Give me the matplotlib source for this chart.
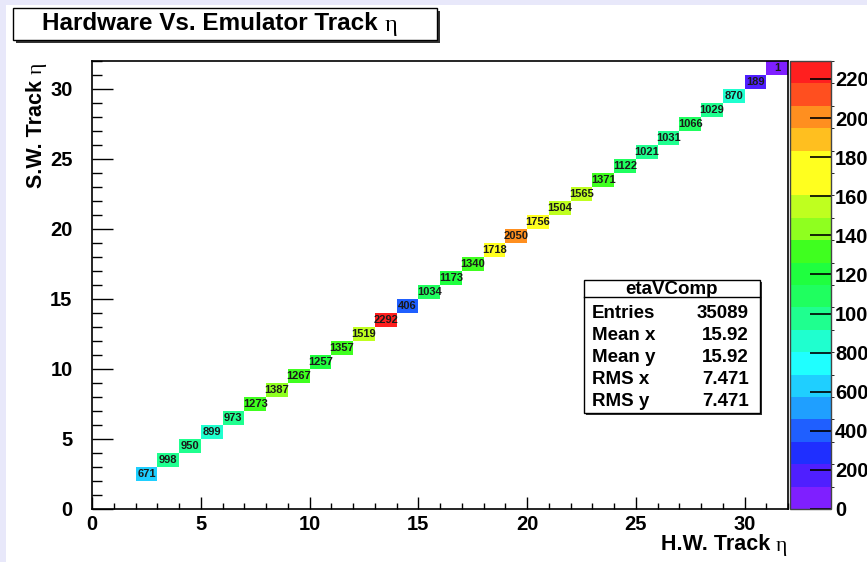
import matplotlib
matplotlib.use('Agg')
import matplotlib.pyplot as plt
import numpy as np
from matplotlib.colors import ListedColormap, BoundaryNorm
from matplotlib.patches import Rectangle
from matplotlib.text import Annotation
from matplotlib.ticker import MultipleLocator

# etaVComp: only the diagonal bins (H.W. eta == S.W. eta) are filled
eta_bins = list(range(2, 32))
counts = [671, 998, 950, 899, 973, 1273, 1387, 1267, 1257, 1357,
          1519, 2292, 406, 1034, 1173, 1340, 1718, 2050, 1756, 1504,
          1565, 1371, 1122, 1021, 1031, 1066, 1029, 870, 189, 1]
n_bins = 32

# ROOT rainbow palette, 20 contour levels (bottom -> top)
palette = ['#7f1fff', '#4f1fff', '#1f2fff', '#1f5fff', '#1f9fff',
           '#1fcfff', '#1fffff', '#1fffcf', '#1fff8f', '#1fff5f',
           '#1fff3f', '#3fff1f', '#8fff1f', '#bfff1f', '#ffff1f',
           '#ffff1f', '#ffbf1f', '#ff8f1f', '#ff4f1f', '#ff1f1f']
z_ticks = list(range(0, 2201, 200))

stats_name = 'etaVComp'
stats_labels = ['Entries', 'Mean x', 'Mean y', 'RMS x', 'RMS y']
stats_values = ['35089', '15.92', '15.92', '7.471', '7.471']

W, H = 867, 562
FONT = 'Liberation Sans'
SERIF = 'Liberation Serif'


def fx(x):
    return x / W


def fy(y):
    return 1 - y / H


fig = plt.figure(figsize=(W / 100, H / 100), dpi=100)
fig.patch.set_facecolor('white')

# lavender canvas border (top / left)
fig.add_artist(Rectangle((0, fy(5)), 1, 5 / H, transform=fig.transFigure,
                         facecolor='#e8e8fa', edgecolor='none'))
fig.add_artist(Rectangle((0, 0), 6 / W, 1, transform=fig.transFigure,
                         facecolor='#e8e8fa', edgecolor='none'))

ax = fig.add_axes([fx(92), fy(509), fx(696), 448 / H])

hist = np.zeros((n_bins, n_bins))
for b, c in zip(eta_bins, counts):
    hist[b, b] = c
hist = np.ma.masked_equal(hist, 0)

cmap = ListedColormap(palette)
cmap.set_over(palette[-1])
levels = np.linspace(0, max(counts), len(palette) + 1)
norm = BoundaryNorm(levels, len(palette))
edges = np.arange(n_bins + 1)
mesh = ax.pcolormesh(edges, edges, hist.T, cmap=cmap, norm=norm)

for b, c in zip(eta_bins, counts):
    ax.text(b + 0.5, b + 0.5, str(c), ha='center', va='center',
            fontsize=8, fontweight='bold', family=FONT, color='#1a1a1a')

ax.set_xlim(0, n_bins)
ax.set_ylim(0, n_bins)
ax.xaxis.set_major_locator(MultipleLocator(5))
ax.xaxis.set_minor_locator(MultipleLocator(1))
ax.yaxis.set_major_locator(MultipleLocator(5))
ax.yaxis.set_minor_locator(MultipleLocator(1))
ax.tick_params(axis='x', which='major', direction='in', length=8.6, width=1, pad=4)
ax.tick_params(axis='x', which='minor', direction='in', length=4.3, width=1)
ax.tick_params(axis='y', which='major', direction='in', length=15, width=1, pad=14)
ax.tick_params(axis='y', which='minor', direction='in', length=7.5, width=1)
for lab in ax.get_xticklabels() + ax.get_yticklabels():
    lab.set_fontfamily(FONT)
    lab.set_fontweight('bold')
    lab.set_fontsize(14.5)
for sp in ax.spines.values():
    sp.set_linewidth(1.2)

# colour scale
cax = fig.add_axes([fx(790), fy(509), 41 / W, 448 / H])
cb = fig.colorbar(mesh, cax=cax, ticks=z_ticks)
cb.outline.set_linewidth(1)
cb.outline.set_edgecolor('#444444')
cax.tick_params(direction='in', length=15, width=1.2, pad=3, right=True, left=False)
for lab in cax.get_yticklabels():
    lab.set_fontfamily(FONT)
    lab.set_fontweight('bold')
    lab.set_fontsize(14.5)


def label_with_eta(x, y, text, size, ha='left', va='center', rotation=0):
    t = fig.text(x, y, text, ha=ha, va=va, rotation=rotation,
                 fontsize=size, fontweight='bold', family=FONT)
    if rotation == 90:
        eta = Annotation('η', xy=(0.5, 1), xycoords=t, ha='center', va='bottom',
                         rotation=90, fontsize=size, family=SERIF)
    else:
        eta = Annotation('η', xy=(1, 0), xycoords=t, ha='left', va='bottom',
                         fontsize=size, family=SERIF)
    eta.set_zorder(5)
    fig.add_artist(eta)
    return t


# title box with shadow
fig.add_artist(Rectangle((fx(16), fy(43)), 424 / W, 32 / H, transform=fig.transFigure,
                         facecolor='#333333', edgecolor='none'))
fig.add_artist(Rectangle((fx(13), fy(40)), 424 / W, 32 / H, transform=fig.transFigure,
                         facecolor='white', edgecolor='black', linewidth=1))
label_with_eta(fx(42), fy(24), 'Hardware Vs. Emulator Track ', 17.5)

# axis titles
label_with_eta(fx(776), fy(545), 'H.W. Track ', 15.5, ha='right')
label_with_eta(fx(37), fy(74), 'S.W. Track ', 15.5, ha='center', va='top', rotation=90)

# stats box
bx0, by0, bx1, by1 = 584, 280, 760, 413
fig.add_artist(Rectangle((fx(bx0 + 2), fy(by1 + 2)), (bx1 - bx0) / W, (by1 - by0) / H,
                         transform=fig.transFigure, facecolor='#333333', edgecolor='none'))
fig.add_artist(Rectangle((fx(bx0), fy(by1)), (bx1 - bx0) / W, (by1 - by0) / H,
                         transform=fig.transFigure, facecolor='white',
                         edgecolor='black', linewidth=1))
fig.add_artist(plt.Line2D([fx(bx0), fx(bx1)], [fy(297), fy(297)],
                          transform=fig.transFigure, color='black', linewidth=1))
fig.text(fx(671), fy(289), stats_name, ha='center', va='center',
         fontsize=13.5, fontweight='bold', family=FONT)
row_y = np.linspace(314, 401, len(stats_labels))
for yy, name, val in zip(row_y, stats_labels, stats_values):
    fig.text(fx(592), fy(yy), name, ha='left', va='center',
             fontsize=13.5, fontweight='bold', family=FONT)
    fig.text(fx(749), fy(yy), val, ha='right', va='center',
             fontsize=13.5, fontweight='bold', family=FONT)

fig.savefig('out.png', dpi=100)
